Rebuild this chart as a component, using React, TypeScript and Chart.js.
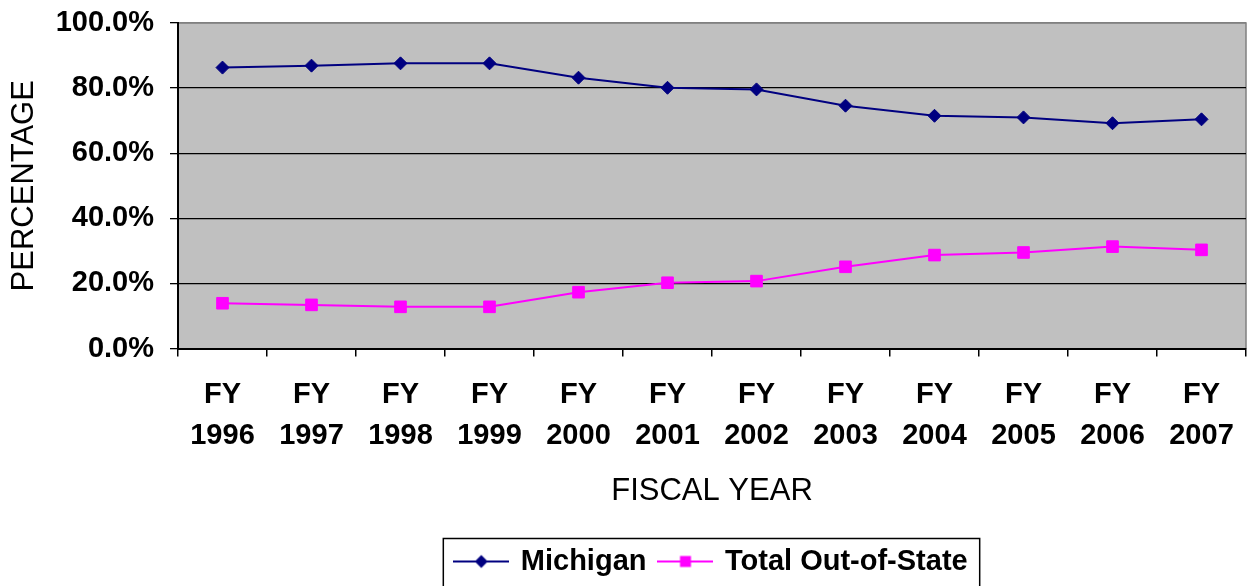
import React, { useEffect, useRef } from 'react';
import { Chart, registerables } from 'chart.js';

Chart.register(...registerables);

// ---- Data ----
const fiscalYears = ['1996', '1997', '1998', '1999', '2000', '2001', '2002', '2003', '2004', '2005', '2006', '2007'];
const michigan = [86.3, 86.9, 87.6, 87.6, 83.2, 80.1, 79.6, 74.6, 71.5, 71.0, 69.2, 70.4];
const outOfState = [13.9, 13.4, 12.8, 12.8, 17.3, 20.2, 20.7, 25.1, 28.7, 29.5, 31.3, 30.3];
const seriesNames = ['Michigan', 'Total Out-of-State'];
const seriesColors = ['#000080', '#FF00FF'];
const yMin = 0;
const yMax = 100;
const yStep = 20;
const xTitle = 'FISCAL YEAR';
const yTitle = 'PERCENTAGE';

const FONT = "'Liberation Sans', Arial, Helvetica, sans-serif";

function makeLegendMarker(color: string, shape: 'diamond' | 'square'): HTMLCanvasElement {
  const c = document.createElement('canvas');
  c.width = 56;
  c.height = 16;
  const g = c.getContext('2d')!;
  g.strokeStyle = color;
  g.lineWidth = 2;
  g.beginPath();
  g.moveTo(0, 8);
  g.lineTo(56, 8);
  g.stroke();
  g.fillStyle = color;
  if (shape === 'diamond') {
    g.beginPath();
    g.moveTo(28, 1.5);
    g.lineTo(34.5, 8);
    g.lineTo(28, 14.5);
    g.lineTo(21.5, 8);
    g.closePath();
    g.fill();
  } else {
    g.fillRect(22.5, 2.5, 11, 11);
  }
  return c;
}

const framePlugin = {
  id: 'framePlugin',
  beforeDraw(chart: any) {
    const { ctx, chartArea } = chart;
    const { left, top, right, bottom } = chartArea;
    ctx.save();
    ctx.fillStyle = '#C0C0C0';
    ctx.fillRect(left, top, right - left, bottom - top);
    ctx.strokeStyle = '#808080';
    ctx.lineWidth = 1.5;
    ctx.beginPath();
    ctx.moveTo(left, top);
    ctx.lineTo(right, top);
    ctx.lineTo(right, bottom);
    ctx.stroke();
    ctx.restore();
  },
  afterDraw(chart: any) {
    const legend = chart.legend;
    if (!legend || !legend.legendHitBoxes || !legend.legendHitBoxes.length) return;
    const boxes = legend.legendHitBoxes;
    let minL = Infinity;
    let maxR = -Infinity;
    let cy = 0;
    boxes.forEach((b: any) => {
      minL = Math.min(minL, b.left);
      maxR = Math.max(maxR, b.left + b.width);
      cy = b.top + b.height / 2;
    });
    const { ctx } = chart;
    ctx.save();
    ctx.strokeStyle = '#000000';
    ctx.lineWidth = 1.5;
    ctx.strokeRect(minL - 13, cy - 23, maxR - minL + 25, 70);
    ctx.restore();
  },
};

export default function App() {
  const canvasRef = useRef<HTMLCanvasElement | null>(null);

  useEffect(() => {
    if (!canvasRef.current) return;
    const markers = [makeLegendMarker(seriesColors[0], 'diamond'), makeLegendMarker(seriesColors[1], 'square')];
    const chart = new Chart(canvasRef.current, {
      type: 'line',
      data: {
        labels: fiscalYears.map((y) => ['FY', y]),
        datasets: [
          {
            label: seriesNames[0],
            data: michigan,
            borderColor: seriesColors[0],
            backgroundColor: seriesColors[0],
            borderWidth: 2,
            pointStyle: 'rectRot',
            pointRadius: 6.5,
            pointHoverRadius: 6.5,
            pointBackgroundColor: seriesColors[0],
            pointBorderColor: seriesColors[0],
            pointBorderWidth: 1,
            tension: 0,
          },
          {
            label: seriesNames[1],
            data: outOfState,
            borderColor: seriesColors[1],
            backgroundColor: seriesColors[1],
            borderWidth: 2,
            pointStyle: 'rect',
            pointRadius: 8.2,
            pointHoverRadius: 8.2,
            pointBackgroundColor: seriesColors[1],
            pointBorderColor: seriesColors[1],
            pointBorderWidth: 1,
            tension: 0,
          },
        ],
      },
      options: {
        animation: false,
        responsive: false,
        maintainAspectRatio: false,
        layout: { autoPadding: false, padding: { left: 0, top: 23, right: 2, bottom: 0 } },
        plugins: {
          tooltip: { enabled: false },
          legend: {
            display: true,
            position: 'bottom',
            fullSize: false,
            labels: {
              usePointStyle: true,
              pointStyleWidth: 50,
              padding: 14,
              color: '#000000',
              font: { family: FONT, size: 29, weight: 'bold' },
              generateLabels: (ch: any) => {
                const items = (Chart.defaults.plugins.legend.labels as any).generateLabels(ch);
                items.forEach((it: any, i: number) => {
                  it.pointStyle = markers[i];
                });
                return items;
              },
            },
          },
        },
        scales: {
          x: {
            type: 'category',
            offset: true,
            afterFit: (scale: any) => {
              scale.height = 184.5;
              scale.paddingLeft = 0;
              scale.paddingRight = 0;
            },
            grid: {
              offset: true,
              drawOnChartArea: false,
              drawTicks: true,
              tickLength: 8,
              color: '#000000',
              lineWidth: 1.5,
            },
            border: { display: true, color: '#000000', width: 2 },
            ticks: {
              autoSkip: false,
              maxRotation: 0,
              minRotation: 0,
              padding: 18,
              color: '#000000',
              font: { family: FONT, size: 29, weight: 'bold', lineHeight: 41 / 29 },
            },
            title: {
              display: true,
              text: xTitle,
              color: '#000000',
              font: { family: FONT, size: 31, weight: 'normal' },
              padding: { top: 0, bottom: 23 },
            },
          },
          y: {
            min: yMin,
            max: yMax,
            afterFit: (scale: any) => {
              scale.width = 178;
              scale.paddingTop = 0;
              scale.paddingBottom = 0;
            },
            grid: {
              drawOnChartArea: true,
              drawTicks: true,
              tickLength: 8,
              color: (ctx: any) => (ctx.tick && ctx.tick.value === yMax ? '#808080' : '#000000'),
              tickColor: '#000000',
              lineWidth: 1.3,
            },
            border: { display: true, color: '#000000', width: 2 },
            ticks: {
              stepSize: yStep,
              padding: 16,
              color: '#000000',
              font: { family: FONT, size: 29, weight: 'bold' },
              callback: (v: any) => Number(v).toFixed(1) + '%',
            },
            title: {
              display: true,
              text: yTitle,
              color: '#000000',
              font: { family: FONT, size: 31, weight: 'normal' },
              padding: { top: 6, bottom: 0 },
            },
          },
        },
      } as any,
      plugins: [framePlugin],
    });
    return () => chart.destroy();
  }, []);

  return (
    <div style={{ position: 'absolute', left: 0, top: 0, width: 1248, height: 586, background: '#ffffff' }}>
      <canvas ref={canvasRef} width={1248} height={586} style={{ display: 'block', width: 1248, height: 586 }} />
    </div>
  );
}
